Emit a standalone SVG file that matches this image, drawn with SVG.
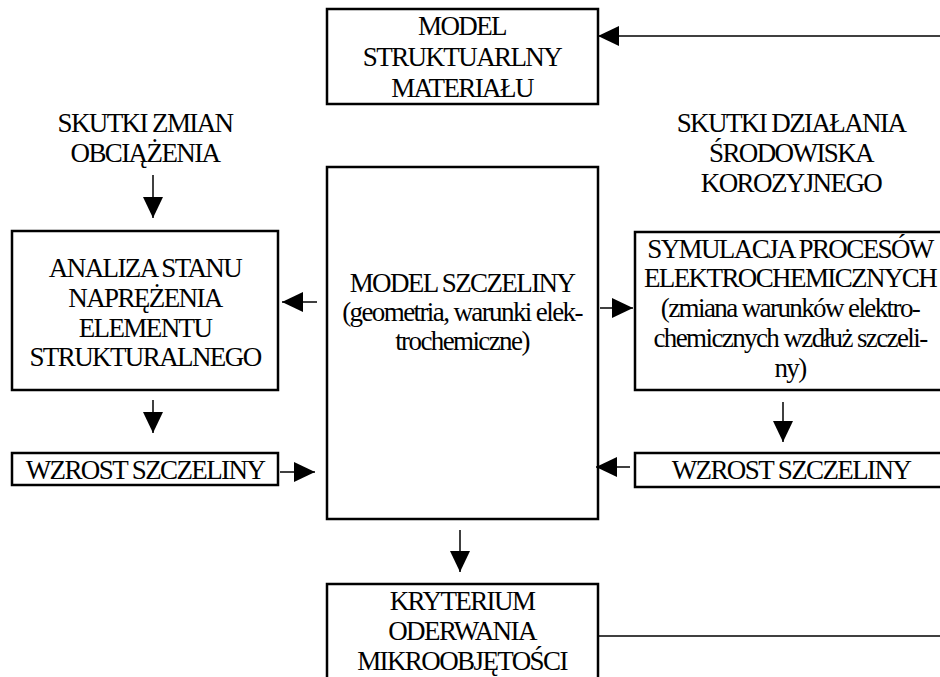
<svg xmlns="http://www.w3.org/2000/svg" width="940" height="677" viewBox="0 0 940 677">
  <style>
    .box { fill: #ffffff; stroke: #000000; stroke-width: 2.5; }
    .t { font-family: "Liberation Serif", "Times New Roman", serif; font-size: 27px; letter-spacing: -1.6px; fill: #000000; text-anchor: middle; }
    .c { stroke: #000000; stroke-width: 1.5; fill: none; }
    .a { marker-end: url(#arr); }
  </style>
  <defs>
    <marker id="arr" markerUnits="userSpaceOnUse" markerWidth="22" markerHeight="22" refX="21" refY="11" orient="auto">
      <path d="M0,1 L21,11 L0,21 z" fill="#000000"/>
    </marker>
  </defs>
  <rect width="940" height="677" fill="#ffffff"/>

  <g id="model-strukturalny">
    <rect class="box" x="327" y="9" width="271" height="95"/>
    <text class="t" x="462" y="35">MODEL</text>
    <text class="t" x="462" y="66">STRUKTUARLNY</text>
    <text class="t" x="462" y="97">MATERIAŁU</text>
  </g>

  <g id="skutki-zmian">
    <text class="t" x="145" y="132">SKUTKI ZMIAN</text>
    <text class="t" x="145" y="162">OBCIĄŻENIA</text>
  </g>

  <g id="skutki-dzialania">
    <text class="t" x="791" y="132">SKUTKI DZIAŁANIA</text>
    <text class="t" x="791" y="162">ŚRODOWISKA</text>
    <text class="t" x="791" y="192">KOROZYJNEGO</text>
  </g>

  <g id="analiza">
    <rect class="box" x="12" y="231" width="266" height="159"/>
    <text class="t" x="145" y="277">ANALIZA STANU</text>
    <text class="t" x="145" y="307">NAPRĘŻENIA</text>
    <text class="t" x="145" y="337">ELEMENTU</text>
    <text class="t" x="145" y="366">STRUKTURALNEGO</text>
  </g>

  <g id="model-szczeliny">
    <rect class="box" x="327" y="167" width="271" height="352"/>
    <text class="t" x="462" y="292">MODEL SZCZELINY</text>
    <text class="t" x="462" y="321">(geometria, warunki elek-</text>
    <text class="t" x="462" y="350">trochemiczne)</text>
  </g>

  <g id="symulacja">
    <rect class="box" x="635" y="232" width="320" height="158"/>
    <text class="t" x="790" y="258">SYMULACJA PROCESÓW</text>
    <text class="t" x="790" y="287">ELEKTROCHEMICZNYCH</text>
    <text class="t" x="790" y="317">(zmiana warunków elektro-</text>
    <text class="t" x="790" y="347">chemicznych wzdłuż szczeli-</text>
    <text class="t" x="790" y="377">ny)</text>
  </g>

  <g id="wzrost-lewy">
    <rect class="box" x="12" y="453" width="266" height="32"/>
    <text class="t" x="145" y="479">WZROST SZCZELINY</text>
  </g>

  <g id="wzrost-prawy">
    <rect class="box" x="635" y="453" width="320" height="34"/>
    <text class="t" x="791" y="479">WZROST SZCZELINY</text>
  </g>

  <g id="kryterium">
    <rect class="box" x="327" y="584" width="271" height="120"/>
    <text class="t" x="462" y="610">KRYTERIUM</text>
    <text class="t" x="462" y="640">ODERWANIA</text>
    <text class="t" x="462" y="670">MIKROOBJĘTOŚCI</text>
  </g>

  <g id="connectors">
    <line class="c a" x1="940" y1="36" x2="598" y2="36"/>
    <line class="c a" x1="153" y1="175" x2="153" y2="218"/>
    <line class="c a" x1="153" y1="400" x2="153" y2="433"/>
    <line class="c a" x1="280" y1="472" x2="315" y2="472"/>
    <line class="c a" x1="317" y1="302" x2="282" y2="302"/>
    <line class="c a" x1="600" y1="308" x2="633" y2="308"/>
    <line class="c a" x1="783" y1="402" x2="783" y2="442"/>
    <line class="c a" x1="630" y1="467" x2="596" y2="467"/>
    <line class="c a" x1="460" y1="530" x2="460" y2="572"/>
    <line class="c" x1="598" y1="636" x2="940" y2="636"/>
  </g>
</svg>
